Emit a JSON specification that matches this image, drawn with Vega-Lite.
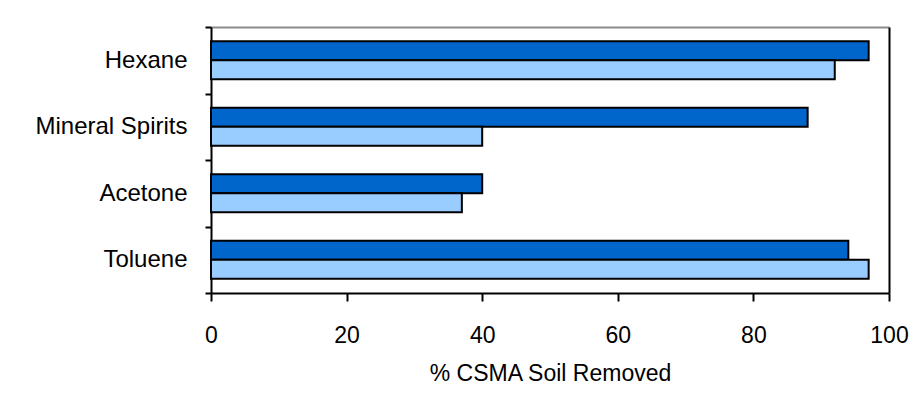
{
  "$schema": "https://vega.github.io/schema/vega-lite/v6.json",
  "width": 678,
  "height": 266,
  "autosize": "none",
  "padding": {"left": 211, "top": 27, "right": 33, "bottom": 114},
  "background": "white",
  "data": {
    "values": [
      {"solvent": "Hexane", "series": "A", "removed": 97},
      {"solvent": "Hexane", "series": "B", "removed": 92},
      {"solvent": "Mineral Spirits", "series": "A", "removed": 88},
      {"solvent": "Mineral Spirits", "series": "B", "removed": 40},
      {"solvent": "Acetone", "series": "A", "removed": 40},
      {"solvent": "Acetone", "series": "B", "removed": 37},
      {"solvent": "Toluene", "series": "A", "removed": 94},
      {"solvent": "Toluene", "series": "B", "removed": 97}
    ]
  },
  "resolve": {"axis": {"x": "independent", "y": "independent"}},
  "layer": [
    {
      "mark": {"type": "bar", "opacity": 0},
      "encoding": {
        "y": {
          "field": "solvent",
          "type": "nominal",
          "sort": ["Hexane", "Mineral Spirits", "Acetone", "Toluene"],
          "axis": {
            "orient": "right",
            "title": null,
            "labels": false,
            "ticks": false,
            "domainColor": "black",
            "domainWidth": 2
          }
        },
        "x": {
          "field": "removed",
          "type": "quantitative",
          "scale": {"domain": [0, 100]},
          "axis": {
            "orient": "top",
            "title": null,
            "labels": false,
            "ticks": false,
            "grid": false,
            "domainColor": "#8c8c8c",
            "domainWidth": 2
          }
        }
      }
    },
    {
      "mark": {"type": "bar", "stroke": "black", "strokeWidth": 2},
      "encoding": {
        "y": {
          "field": "solvent",
          "type": "nominal",
          "sort": ["Hexane", "Mineral Spirits", "Acetone", "Toluene"],
          "scale": {"paddingInner": 0, "paddingOuter": 0},
          "axis": {
            "orient": "left",
            "title": null,
            "tickBand": "extent",
            "tickSize": 6,
            "tickWidth": 2,
            "tickColor": "black",
            "domainWidth": 2,
            "domainColor": "black",
            "labelPadding": 18,
            "labelFont": "Liberation Sans",
            "labelFontSize": 24,
            "labelColor": "black"
          }
        },
        "yOffset": {
          "field": "series",
          "type": "nominal",
          "sort": ["A", "B"],
          "scale": {"paddingInner": 0, "paddingOuter": 0.75}
        },
        "x": {
          "field": "removed",
          "type": "quantitative",
          "scale": {"domain": [0, 100]},
          "axis": {
            "orient": "bottom",
            "title": "% CSMA Soil Removed",
            "values": [0, 20, 40, 60, 80, 100],
            "labelFlush": false,
            "grid": false,
            "tickSize": 8,
            "tickWidth": 2,
            "tickColor": "black",
            "domainWidth": 2,
            "domainColor": "black",
            "labelPadding": 23,
            "labelFont": "Liberation Sans",
            "labelFontSize": 23,
            "labelColor": "black",
            "labelFontWeight": "normal",
            "titleFont": "Liberation Sans",
            "titleFontSize": 23,
            "titleFontWeight": "normal",
            "titleColor": "black",
            "titlePadding": 15
          }
        },
        "color": {
          "field": "series",
          "type": "nominal",
          "scale": {"domain": ["A", "B"], "range": ["#0066CC", "#99CCFF"]},
          "legend": null
        }
      }
    }
  ],
  "config": {
    "view": {"stroke": null}
  }
}
